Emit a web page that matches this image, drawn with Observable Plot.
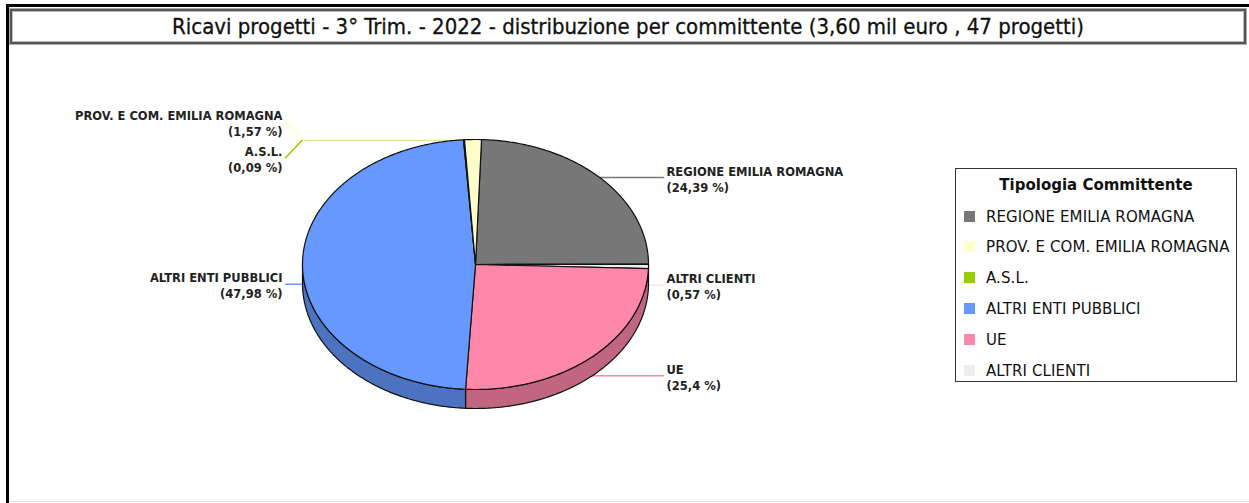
<!DOCTYPE html>
<html><head><meta charset="utf-8">
<script src="https://cdn.jsdelivr.net/npm/d3@7"></script>
<script src="https://cdn.jsdelivr.net/npm/@observablehq/plot@0.6"></script>
<style>
html,body{margin:0;padding:0;background:#fff;}
#wrap{position:relative;width:1249px;height:503px;overflow:hidden;background:#fff;}
#frameTop{position:absolute;left:6px;top:4px;right:0;height:3px;background:#000;}
#frameLeft{position:absolute;left:6px;top:4px;width:3px;bottom:0;background:#000;}
#frameBottom{position:absolute;left:9px;right:0;top:501px;height:1px;background:#ddd;}
#title{position:absolute;left:10px;top:9px;width:1232px;height:31px;border:2px solid #555;box-shadow:0 0 0 1px #aaa, inset 0 0 0 1px #bbb;
  font-family:"DejaVu Sans Condensed","DejaVu Sans",sans-serif;font-size:22px;color:#111;text-align:center;line-height:31px;-webkit-text-stroke:0.3px #111;}
#chart{position:absolute;left:0;top:0;}
#legend{position:absolute;left:955px;top:168px;width:280px;height:212px;border:1px solid #333;background:#fff;
  font-family:"DejaVu Sans",sans-serif;color:#111;}
#legend .lt{text-align:center;font-weight:bold;font-size:15px;margin-top:7px;height:22px;}
#legend .it{position:absolute;left:8px;height:20px;line-height:20px;font-size:15px;white-space:nowrap;letter-spacing:0.1px;}
#legend .sw{display:inline-block;width:11px;height:11px;margin-right:11px;vertical-align:0px;}
</style></head>
<body>
<div id="wrap">
  <div id="frameTop"></div><div id="frameLeft"></div><div id="frameBottom"></div>
  <div id="chart"></div>
  <div id="title"></div>
  <div id="legend"></div>
</div>
<script>
// ---- data ----
const titleText = "Ricavi progetti - 3° Trim. - 2022 - distribuzione per committente (3,60 mil euro , 47 progetti)";
const legendTitle = "Tipologia Committente";
const categories = ["REGIONE EMILIA ROMAGNA","PROV. E COM. EMILIA ROMAGNA","A.S.L.","ALTRI ENTI PUBBLICI","UE","ALTRI CLIENTI"];
const colors = ["#777777","#FFFFCC","#99CC00","#6699FF","#FF88AA","#EEEEEE"];
const percentages = [24.39, 1.57, 0.09, 47.98, 25.4, 0.57];
// clockwise order of slices starting at 12 o'clock
const pieOrder = ["REGIONE EMILIA ROMAGNA","ALTRI CLIENTI","UE","ALTRI ENTI PUBBLICI","A.S.L.","PROV. E COM. EMILIA ROMAGNA"];

// ---- layout ----
const W = 1249, H = 503;
const cx = 475, cy = 264, rx = 173, ry = 125, depth = 19, rot = 2 * Math.PI / 180;
const toPt = (a, dz) => ({x: cx + rx * Math.sin(a), y: cy - ry * Math.cos(a) + dz});
const val = c => percentages[categories.indexOf(c)];

let cum = 0;
const slices = pieOrder.map(c => {
  const a0 = rot + cum / 100 * 2 * Math.PI;
  cum += val(c);
  const a1 = rot + cum / 100 * 2 * Math.PI;
  return {cat: c, a0, a1, v: val(c)};
});
function arc(a0, a1, dz) {
  const n = Math.max(2, Math.ceil((a1 - a0) / (Math.PI / 360)));
  const pts = [];
  for (let i = 0; i <= n; i++) pts.push(toPt(a0 + (a1 - a0) * i / n, dz));
  return pts;
}
// top faces
const topRows = [];
slices.forEach(s => {
  topRows.push({cat: s.cat, x: cx, y: cy});
  arc(s.a0, s.a1, 0).forEach(p => topRows.push({cat: s.cat, ...p}));
});
// side faces
const sideRows = [];
slices.forEach(s => {
  const st = Math.max(s.a0, Math.PI / 2), en = Math.min(s.a1, 3 * Math.PI / 2);
  if (en > st) {
    const k = s.cat + "|side";
    arc(st, en, 0).forEach(p => sideRows.push({cat: k, ...p}));
    arc(st, en, depth).reverse().forEach(p => sideRows.push({cat: k, ...p}));
  }
});
// leaders & labels
const fmt = v => String(v).replace(".", ",") + " %";
const labels = slices.map(s => {
  const m = (s.a0 + s.a1) / 2;
  const front = m > Math.PI / 2 && m < 3 * Math.PI / 2;
  const p = toPt(m, front ? depth : 0);
  const right = Math.sin(m) > 0;
  return {cat: s.cat, p, right, y: p.y, text: s.cat + "\n(" + fmt(s.v) + ")"};
});
[true, false].forEach(side => {
  const L = labels.filter(l => l.right === side).sort((a, b) => a.p.y - b.p.y);
  const gap = 36;
  for (let i = 1; i < L.length; i++) {
    if (L[i].y - L[i - 1].y < gap) {
      const mid = (L[i].y + L[i - 1].y) / 2;
      L[i - 1].y = mid - gap / 2; L[i].y = mid + gap / 2;
    }
  }
});
const leaderRows = [];
labels.forEach(l => {
  const ex = l.right ? cx + rx : cx - rx;
  const tx = l.right ? cx + rx + 15 : cx - rx - 17;
  leaderRows.push({cat: l.cat, x: l.p.x, y: l.p.y});
  leaderRows.push({cat: l.cat, x: ex, y: l.p.y});
  leaderRows.push({cat: l.cat, x: tx, y: l.y});
  l.tx = l.right ? cx + rx + 18 : cx - rx - 20;
});

const sideColors = colors.map(c => d3.color(c).darker(0.8).formatHex());
const labelFont = {fontFamily: "DejaVu Sans, sans-serif", fontWeight: "bold", fontSize: 11.5, lineHeight: 1.4, fill: "#222"};
const plot = Plot.plot({
  width: W, height: H, margin: 0,
  x: {domain: [0, W], range: [0, W], axis: null},
  y: {domain: [0, H], range: [0, H], axis: null},
  color: {domain: categories.concat(categories.map(c => c + "|side")), range: colors.concat(sideColors)},
  style: {background: "transparent", overflow: "visible"},
  marks: [
    Plot.line(leaderRows, {x: "x", y: "y", z: "cat", stroke: "cat", strokeWidth: 1.5}),
    Plot.line(sideRows, {x: "x", y: "y", z: "cat", fill: "cat", stroke: "#111", strokeWidth: 1.2, curve: "linear-closed"}),
    Plot.line(topRows, {x: "x", y: "y", z: "cat", fill: "cat", stroke: "#111", strokeWidth: 1.2, curve: "linear-closed"}),
    Plot.text(labels.filter(l => l.right), {x: "tx", y: "y", text: "text", textAnchor: "start", lineAnchor: "middle", dy: 1, ...labelFont}),
    Plot.text(labels.filter(l => !l.right), {x: "tx", y: "y", text: "text", textAnchor: "end", lineAnchor: "middle", dy: 1, ...labelFont})
  ]
});
document.getElementById("chart").appendChild(plot);
document.getElementById("title").textContent = titleText;

const leg = document.getElementById("legend");
const lt = document.createElement("div"); lt.className = "lt"; lt.textContent = legendTitle; leg.appendChild(lt);
categories.forEach((c, i) => {
  const it = document.createElement("div"); it.className = "it";
  it.style.top = (37.5 + i * 30.8) + "px";
  const sw = document.createElement("span"); sw.className = "sw"; sw.style.background = colors[i];
  it.appendChild(sw); it.appendChild(document.createTextNode(c));
  leg.appendChild(it);
});
</script>
</body></html>
